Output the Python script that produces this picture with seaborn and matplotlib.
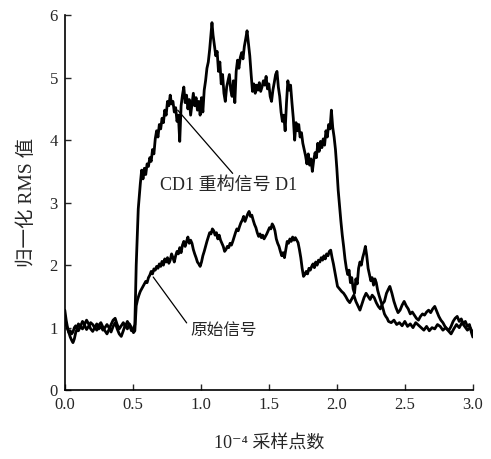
import matplotlib
matplotlib.use("Agg")
import matplotlib.pyplot as plt
import seaborn as sns

# ========== Data ==========

# CD1 reconstructed signal D1 (upper curve)
x_d1 = [0.000, 0.010, 0.020, 0.030, 0.040, 0.050, 0.060, 0.070, 0.080, 0.090,
        0.100, 0.115, 0.130, 0.145, 0.160, 0.175, 0.190, 0.205, 0.220, 0.235,
        0.250, 0.265, 0.280, 0.295, 0.310, 0.325, 0.340, 0.355, 0.370, 0.385,
        0.400, 0.415, 0.430, 0.445, 0.460, 0.475, 0.490, 0.505, 0.515, 0.525,
        0.540, 0.555, 0.565, 0.575, 0.585, 0.595, 0.605, 0.615, 0.625, 0.635,
        0.645, 0.655, 0.665, 0.675, 0.685, 0.695, 0.705, 0.715, 0.725, 0.735,
        0.745, 0.755, 0.765, 0.775, 0.785, 0.795, 0.805, 0.815, 0.825, 0.835,
        0.845, 0.855, 0.865, 0.875, 0.885, 0.895, 0.905, 0.915, 0.925, 0.935,
        0.945, 0.955, 0.965, 0.975, 0.985, 0.995, 1.005, 1.015, 1.025, 1.035,
        1.045, 1.055, 1.065, 1.075, 1.082, 1.090, 1.100, 1.110, 1.120, 1.130,
        1.140, 1.150, 1.160, 1.170, 1.180, 1.190, 1.200, 1.210, 1.220, 1.230,
        1.240, 1.250, 1.260, 1.270, 1.280, 1.290, 1.300, 1.310, 1.320, 1.330,
        1.340, 1.350, 1.360, 1.370, 1.380, 1.390, 1.400, 1.410, 1.420, 1.430,
        1.440, 1.450, 1.460, 1.470, 1.480, 1.490, 1.500, 1.510, 1.520, 1.530,
        1.540, 1.550, 1.560, 1.570, 1.580, 1.590, 1.600, 1.610, 1.620, 1.630,
        1.640, 1.650, 1.660, 1.670, 1.680, 1.690, 1.700, 1.710, 1.720, 1.730,
        1.740, 1.750, 1.760, 1.770, 1.780, 1.790, 1.800, 1.810, 1.820, 1.830,
        1.840, 1.850, 1.860, 1.870, 1.880, 1.890, 1.900, 1.910, 1.920, 1.930,
        1.940, 1.950, 1.960, 1.970, 1.980, 1.990, 2.000, 2.010, 2.020, 2.030,
        2.040, 2.050, 2.060, 2.070, 2.080, 2.090, 2.100, 2.110, 2.120, 2.130,
        2.140, 2.150, 2.160, 2.170, 2.180, 2.190, 2.200, 2.210, 2.220, 2.230,
        2.240, 2.250, 2.260, 2.270, 2.280, 2.290, 2.300, 2.310, 2.320, 2.330,
        2.340, 2.350, 2.360, 2.370, 2.380, 2.400, 2.420, 2.440, 2.460, 2.480,
        2.500, 2.520, 2.540, 2.560, 2.580, 2.600, 2.620, 2.640, 2.660, 2.680,
        2.700, 2.720, 2.740, 2.760, 2.780, 2.800, 2.820, 2.840, 2.860, 2.880,
        2.900, 2.920, 2.940, 2.960, 2.980, 3.000]
y_d1 = [1.15, 1.05, 0.98, 0.92, 0.95, 0.90, 0.93, 1.00, 1.03, 0.98,
        1.06, 1.02, 1.10, 1.05, 1.12, 1.06, 0.98, 0.94, 1.00, 0.96,
        1.04, 1.08, 1.01, 0.95, 0.90, 0.97, 1.05, 1.12, 1.15, 1.05,
        0.98, 1.03, 1.08, 1.02, 1.10, 1.04, 0.95, 0.98, 1.05, 2.00,
        2.90, 3.30, 3.52, 3.38, 3.55, 3.45, 3.62, 3.58, 3.72, 3.66,
        3.85, 3.78, 4.02, 4.15, 4.05, 4.25, 4.18, 4.35, 4.28, 4.48,
        4.40, 4.62, 4.55, 4.72, 4.58, 4.62, 4.45, 4.52, 4.30, 4.40,
        3.98, 4.55, 4.72, 4.85, 4.60, 4.72, 4.50, 4.65, 4.40, 4.58,
        4.75, 4.55, 4.68, 4.48, 4.62, 4.40, 4.68, 4.45, 4.80, 4.95,
        5.15, 5.25, 5.45, 5.70, 5.88, 5.68, 5.52, 5.35, 5.42, 5.10,
        5.25, 4.90, 5.05, 4.75, 4.62, 4.85, 4.95, 5.05, 4.80, 4.70,
        4.95, 4.60, 5.10, 5.28, 5.15, 5.32, 5.40, 5.30, 5.50, 5.62,
        5.75, 5.55, 5.35, 5.05, 4.78, 4.90, 4.75, 4.88, 4.80, 4.92,
        4.78, 4.85, 4.95, 4.88, 5.02, 4.82, 4.90, 4.70, 4.62, 4.80,
        4.92, 5.05, 5.10, 4.85, 4.70, 4.45, 4.30, 4.40, 4.15, 4.60,
        4.95, 4.80, 4.88, 4.60, 4.35, 4.00, 4.28, 4.15, 4.25, 4.05,
        4.12, 3.95, 3.85, 3.75, 3.62, 3.78, 3.60, 3.70, 3.50, 3.68,
        3.80, 3.72, 3.95, 3.82, 3.98, 3.88, 4.02, 3.92, 4.15, 4.05,
        4.25, 4.18, 4.48, 4.20, 4.05, 3.85, 3.55, 3.20, 2.95, 2.70,
        2.48, 2.30, 2.10, 1.95, 1.85, 1.92, 1.72, 1.80, 1.62, 1.55,
        1.78, 1.70, 1.95, 2.05, 2.00, 2.12, 2.20, 2.30, 2.15, 1.95,
        1.85, 1.75, 1.80, 1.68, 1.78, 1.72, 1.60, 1.52, 1.45, 1.38,
        1.30, 1.22, 1.18, 1.15, 1.10, 1.08, 1.12, 1.05, 1.08, 1.03,
        1.10, 1.02, 1.06, 1.00, 1.08, 1.04, 1.00, 0.96, 1.02, 0.95,
        1.00, 0.98, 1.05, 1.02, 0.96, 1.00, 0.95, 0.90, 0.98, 1.05,
        1.00, 1.08, 1.02, 0.96, 1.00, 0.92]

# original signal (lower curve)
x_raw = [0.000, 0.010, 0.020, 0.030, 0.040, 0.050, 0.060, 0.070, 0.080, 0.090,
         0.100, 0.115, 0.130, 0.145, 0.160, 0.175, 0.190, 0.205, 0.220, 0.235,
         0.250, 0.265, 0.280, 0.295, 0.310, 0.325, 0.340, 0.355, 0.370, 0.385,
         0.400, 0.415, 0.430, 0.445, 0.460, 0.475, 0.490, 0.505, 0.515, 0.525,
         0.535, 0.545, 0.555, 0.565, 0.575, 0.585, 0.595, 0.605, 0.615, 0.625,
         0.635, 0.645, 0.655, 0.665, 0.675, 0.685, 0.695, 0.705, 0.715, 0.725,
         0.735, 0.745, 0.755, 0.765, 0.775, 0.785, 0.795, 0.805, 0.815, 0.825,
         0.835, 0.845, 0.855, 0.865, 0.875, 0.885, 0.895, 0.905, 0.915, 0.925,
         0.935, 0.945, 0.955, 0.965, 0.975, 0.985, 0.995, 1.005, 1.015, 1.025,
         1.035, 1.045, 1.055, 1.065, 1.075, 1.085, 1.095, 1.105, 1.115, 1.125,
         1.135, 1.145, 1.155, 1.165, 1.175, 1.185, 1.195, 1.205, 1.215, 1.225,
         1.235, 1.245, 1.255, 1.265, 1.275, 1.285, 1.295, 1.305, 1.315, 1.325,
         1.335, 1.345, 1.355, 1.365, 1.375, 1.385, 1.395, 1.405, 1.415, 1.425,
         1.435, 1.445, 1.455, 1.465, 1.475, 1.485, 1.495, 1.505, 1.515, 1.525,
         1.535, 1.545, 1.555, 1.565, 1.575, 1.585, 1.595, 1.605, 1.615, 1.625,
         1.635, 1.645, 1.655, 1.665, 1.675, 1.685, 1.695, 1.705, 1.715, 1.725,
         1.735, 1.745, 1.755, 1.765, 1.775, 1.785, 1.795, 1.805, 1.815, 1.825,
         1.835, 1.845, 1.855, 1.865, 1.875, 1.885, 1.895, 1.905, 1.915, 1.925,
         1.935, 1.945, 1.955, 1.965, 1.975, 1.985, 1.995, 2.005, 2.020, 2.035,
         2.050, 2.065, 2.080, 2.095, 2.110, 2.125, 2.140, 2.155, 2.170, 2.185,
         2.200, 2.215, 2.230, 2.245, 2.260, 2.275, 2.290, 2.305, 2.320, 2.335,
         2.350, 2.365, 2.380, 2.390, 2.405, 2.420, 2.435, 2.450, 2.465, 2.480,
         2.495, 2.510, 2.525, 2.540, 2.555, 2.570, 2.585, 2.600, 2.615, 2.630,
         2.645, 2.660, 2.675, 2.690, 2.705, 2.720, 2.735, 2.750, 2.765, 2.780,
         2.795, 2.810, 2.825, 2.840, 2.855, 2.870, 2.885, 2.900, 2.915, 2.930,
         2.945, 2.960, 2.975, 2.990, 3.000]
y_raw = [1.28, 1.12, 1.00, 0.92, 0.85, 0.80, 0.76, 0.82, 0.92, 0.98,
         0.95, 1.02, 0.98, 1.04, 0.97, 1.02, 1.08, 1.05, 1.00, 1.06,
         0.98, 1.02, 0.96, 1.00, 1.05, 1.00, 0.93, 1.02, 1.08, 0.98,
         0.90, 0.86, 0.95, 1.05, 0.98, 1.06, 1.00, 0.92, 0.95, 1.35,
         1.45, 1.52, 1.58, 1.62, 1.66, 1.70, 1.74, 1.72, 1.80, 1.84,
         1.90, 1.86, 1.94, 1.92, 1.98, 1.95, 2.02, 1.98, 2.06, 2.00,
         2.10, 2.05, 2.12, 2.03, 2.08, 2.18, 2.12, 2.05, 2.15, 2.22,
         2.18, 2.28, 2.20, 2.32, 2.38, 2.30, 2.38, 2.45, 2.35, 2.40,
         2.35, 2.25, 2.18, 2.12, 2.05, 2.02, 1.98, 2.05, 2.15, 2.22,
         2.30, 2.38, 2.45, 2.52, 2.50, 2.58, 2.55, 2.48, 2.52, 2.42,
         2.48, 2.40, 2.35, 2.30, 2.22, 2.25, 2.30, 2.28, 2.35, 2.32,
         2.38, 2.45, 2.52, 2.58, 2.55, 2.62, 2.68, 2.72, 2.78, 2.70,
         2.76, 2.82, 2.86, 2.78, 2.80, 2.72, 2.65, 2.60, 2.52, 2.46,
         2.50, 2.44, 2.48, 2.42, 2.46, 2.50, 2.55, 2.60, 2.58, 2.66,
         2.62, 2.55, 2.42, 2.35, 2.30, 2.22, 2.15, 2.20, 2.12, 2.25,
         2.38, 2.35, 2.42, 2.38, 2.45, 2.40, 2.44, 2.40, 2.36, 2.25,
         2.12, 1.95, 1.82, 1.85, 1.90, 1.86, 1.95, 1.92, 1.98, 2.02,
         1.96, 2.05, 2.00, 2.08, 2.05, 2.12, 2.08, 2.15, 2.10, 2.18,
         2.15, 2.22, 2.24, 2.12, 2.02, 1.90, 1.78, 1.66, 1.62, 1.58,
         1.55, 1.50, 1.44, 1.40, 1.46, 1.52, 1.42, 1.35, 1.28, 1.38,
         1.48, 1.55, 1.50, 1.45, 1.52, 1.48, 1.40, 1.34, 1.30, 1.38,
         1.42, 1.55, 1.62, 1.66, 1.55, 1.42, 1.32, 1.24, 1.28, 1.36,
         1.42, 1.35, 1.30, 1.22, 1.25, 1.20, 1.15, 1.12, 1.18, 1.22,
         1.20, 1.25, 1.28, 1.24, 1.30, 1.34, 1.26, 1.18, 1.12, 1.08,
         1.02, 0.98, 0.96, 1.02, 1.10, 1.15, 1.18, 1.10, 1.14, 1.06,
         1.10, 1.02, 1.05, 0.92, 0.85]

x_ticks = [0.0, 0.5, 1.0, 1.5, 2.0, 2.5, 3.0]
y_ticks = [0, 1, 2, 3, 4, 5, 6]

label_d1 = "CD1 重构信号 D1"
label_raw = "原始信号"
x_title = "10⁻⁴ 采样点数"
y_title = "归一化 RMS 值"

# ========== Plot ==========

sns.set_style("ticks")
plt.rcParams['font.family'] = ['Liberation Serif', 'Noto Sans CJK SC', 'DejaVu Sans']

fig = plt.figure(figsize=(4.91, 4.59), dpi=100)
ax = fig.add_axes([0.132, 0.150, 0.831, 0.817])

sns.lineplot(x=x_d1, y=y_d1, ax=ax, color='black', linewidth=2.0, sort=False)
sns.lineplot(x=x_raw, y=y_raw, ax=ax, color='black', linewidth=2.0, sort=False)

ax.set_xlim(0, 3.0)
ax.set_ylim(0, 6)
ax.set_xticks(x_ticks)
ax.set_xticklabels([f"{t:.1f}" for t in x_ticks])
ax.set_yticks(y_ticks)
ax.tick_params(direction='in', length=4, width=1, labelsize=12, pad=5)
sns.despine(ax=ax)
for side in ['left', 'bottom']:
    ax.spines[side].set_linewidth(1.2)
    ax.spines[side].set_color('black')

ax.set_xlabel(x_title, fontsize=13, labelpad=16)
ax.set_ylabel(y_title, fontsize=14, labelpad=10)

# leader lines + labels
ax.annotate(label_d1, xy=(0.83, 4.48), xytext=(0.70, 3.28), fontsize=13,
            va='center', ha='left',
            arrowprops=dict(arrowstyle='-', color='black', lw=0.9,
                            shrinkA=0, shrinkB=0, relpos=(0.55, 1.0)))
ax.annotate(label_raw, xy=(0.65, 1.81), xytext=(0.92, 0.94), fontsize=12,
            va='center', ha='left',
            arrowprops=dict(arrowstyle='-', color='black', lw=0.9,
                            shrinkA=0, shrinkB=0, relpos=(0.0, 0.75)))

fig.savefig("out.png", dpi=100)
